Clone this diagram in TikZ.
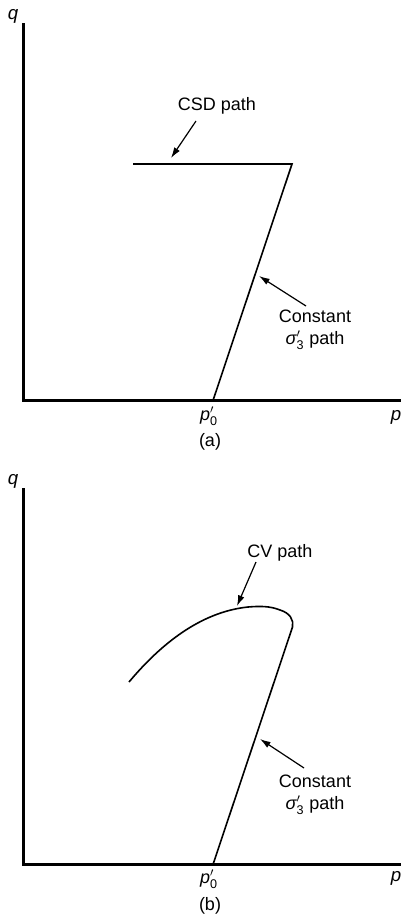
\documentclass[tikz,border=0pt]{standalone}
\usepackage{fontspec}
\usepackage{amsmath}
\setmainfont{Liberation Sans}
\usetikzlibrary{arrows.meta}
\begin{document}
\begin{tikzpicture}[x=0.75pt,y=-0.75pt,
  axis/.style={line width=1.6pt},
  pathline/.style={line width=1.2pt},
  callout/.style={line width=0.9pt,-{Latex[length=8pt,width=5pt]}},
  lbl/.style={font=\fontsize{13.5}{16.5}\selectfont,inner sep=0pt,align=center},
  ax/.style={font=\fontsize{14}{16}\selectfont\itshape,inner sep=0pt}]
\useasboundingbox (0,0) rectangle (406,918);
% ---------- panel (a)
\coordinate (aO) at (23.5,400.5);
\coordinate (aY) at (23.5,23);
\coordinate (aX) at (401,400.5);
\draw[axis] (aY) -- (aO) -- (aX);
\node[ax] (aq) at (13,16) {q};
\node[ax] (ap) at (396,417) {p};
\node[lbl] (ap0) at (209,416) {$\text{\itshape p}'_{\text{0}}$};
\node[lbl] (acap) at (210,442) {(a)};
\coordinate (aS) at (213,400.5);
\coordinate (aT) at (292,164);
\coordinate (aL) at (133,164);
\draw[pathline] (aS) -- (aT) -- (aL);
\node[lbl] (acsd) at (217,106) {CSD path};
\coordinate (acsdA) at (196,121);
\coordinate (acsdB) at (171,158);
\draw[callout] (acsdA) -- (acsdB);
\node[lbl] (acon) at (315,330) {Constant\\$\text{\itshape σ}'_{\text{3}}$ path};
\coordinate (aconA) at (306,306);
\coordinate (aconB) at (259,276);
\draw[callout] (aconA) -- (aconB);
% ---------- panel (b)
\coordinate (bO) at (23.5,864.5);
\coordinate (bY) at (23.5,488);
\coordinate (bX) at (401,864.5);
\draw[axis] (bY) -- (bO) -- (bX);
\node[ax] (bq) at (13,481) {q};
\node[ax] (bp) at (396,878) {p};
\node[lbl] (bp0) at (209,879) {$\text{\itshape p}'_{\text{0}}$};
\node[lbl] (bcap) at (210,906) {(b)};
\coordinate (bS) at (213,864.5);
\coordinate (bT) at (292.5,627);
\coordinate (bL) at (129,682);
\draw[pathline] (bS) -- (bT) .. controls (294,620) and (290,613) .. (280,610)
  .. controls (270,606) and (260,606) .. (248,607)
  .. controls (200,612) and (160,645) .. (bL);
\node[lbl] (bcv) at (280,553) {CV path};
\coordinate (bcvA) at (256,562);
\coordinate (bcvB) at (237,606);
\draw[callout] (bcvA) -- (bcvB);
\node[lbl] (bcon) at (315,795) {Constant\\$\text{\itshape σ}'_{\text{3}}$ path};
\coordinate (bconA) at (304,768);
\coordinate (bconB) at (260,739);
\draw[callout] (bconA) -- (bconB);
\end{tikzpicture}
\end{document}
